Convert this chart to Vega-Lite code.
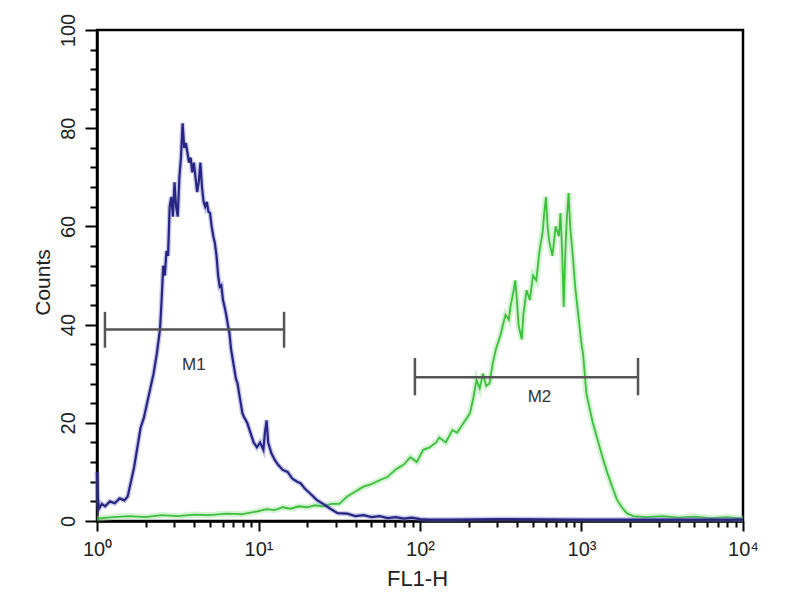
{
  "$schema": "https://vega.github.io/schema/vega-lite/v6.json",
  "width": 646,
  "height": 491,
  "autosize": "none",
  "padding": {"left": 97, "top": 30, "right": 57, "bottom": 79},
  "background": "white",
  "config": {
    "view": {"stroke": "black", "strokeWidth": 2.5},
    "font": "Liberation Sans",
    "axis": {"labelOverlap": false, "labelFlush": false, "labelBound": false, "grid": false}
  },
  "resolve": {"axis": {"y": "independent"}},
  "datasets": {
    "curves": [
      {"s": "blue", "x": 1, "c": 10}, {"s": "blue", "x": 1.0116, "c": 5}, {"s": "blue", "x": 1.028, "c": 2.5},
      {"s": "blue", "x": 1.0715, "c": 3.5}, {"s": "blue", "x": 1.122, "c": 3}, {"s": "blue", "x": 1.202, "c": 4},
      {"s": "blue", "x": 1.288, "c": 3.6}, {"s": "blue", "x": 1.38, "c": 4.6}, {"s": "blue", "x": 1.479, "c": 4.2},
      {"s": "blue", "x": 1.549, "c": 5}, {"s": "blue", "x": 1.622, "c": 8}, {"s": "blue", "x": 1.698, "c": 11},
      {"s": "blue", "x": 1.778, "c": 15}, {"s": "blue", "x": 1.862, "c": 19}, {"s": "blue", "x": 1.95, "c": 21},
      {"s": "blue", "x": 2.042, "c": 24}, {"s": "blue", "x": 2.138, "c": 27}, {"s": "blue", "x": 2.239, "c": 30},
      {"s": "blue", "x": 2.344, "c": 34}, {"s": "blue", "x": 2.455, "c": 39}, {"s": "blue", "x": 2.512, "c": 45},
      {"s": "blue", "x": 2.57, "c": 52}, {"s": "blue", "x": 2.63, "c": 50}, {"s": "blue", "x": 2.692, "c": 55},
      {"s": "blue", "x": 2.754, "c": 54}, {"s": "blue", "x": 2.818, "c": 64}, {"s": "blue", "x": 2.884, "c": 66},
      {"s": "blue", "x": 2.951, "c": 62}, {"s": "blue", "x": 3.02, "c": 69}, {"s": "blue", "x": 3.09, "c": 64},
      {"s": "blue", "x": 3.162, "c": 62}, {"s": "blue", "x": 3.236, "c": 70}, {"s": "blue", "x": 3.311, "c": 74},
      {"s": "blue", "x": 3.388, "c": 81}, {"s": "blue", "x": 3.467, "c": 76}, {"s": "blue", "x": 3.548, "c": 77},
      {"s": "blue", "x": 3.631, "c": 75}, {"s": "blue", "x": 3.715, "c": 73}, {"s": "blue", "x": 3.802, "c": 74},
      {"s": "blue", "x": 3.89, "c": 71}, {"s": "blue", "x": 3.981, "c": 73}, {"s": "blue", "x": 4.074, "c": 70},
      {"s": "blue", "x": 4.169, "c": 67}, {"s": "blue", "x": 4.266, "c": 69}, {"s": "blue", "x": 4.365, "c": 73},
      {"s": "blue", "x": 4.467, "c": 68}, {"s": "blue", "x": 4.571, "c": 65}, {"s": "blue", "x": 4.677, "c": 64},
      {"s": "blue", "x": 4.786, "c": 65}, {"s": "blue", "x": 4.898, "c": 63}, {"s": "blue", "x": 5.012, "c": 62.7},
      {"s": "blue", "x": 5.129, "c": 60}, {"s": "blue", "x": 5.248, "c": 58}, {"s": "blue", "x": 5.37, "c": 56.6},
      {"s": "blue", "x": 5.495, "c": 54}, {"s": "blue", "x": 5.623, "c": 50}, {"s": "blue", "x": 5.754, "c": 47.7},
      {"s": "blue", "x": 5.888, "c": 48}, {"s": "blue", "x": 6.026, "c": 45}, {"s": "blue", "x": 6.166, "c": 43.6},
      {"s": "blue", "x": 6.31, "c": 42}, {"s": "blue", "x": 6.457, "c": 40}, {"s": "blue", "x": 6.607, "c": 38.3},
      {"s": "blue", "x": 6.761, "c": 35}, {"s": "blue", "x": 6.918, "c": 33}, {"s": "blue", "x": 7.079, "c": 31},
      {"s": "blue", "x": 7.244, "c": 29}, {"s": "blue", "x": 7.413, "c": 28}, {"s": "blue", "x": 7.586, "c": 26},
      {"s": "blue", "x": 7.762, "c": 24}, {"s": "blue", "x": 7.943, "c": 22}, {"s": "blue", "x": 8.128, "c": 21.2},
      {"s": "blue", "x": 8.511, "c": 20}, {"s": "blue", "x": 8.913, "c": 18}, {"s": "blue", "x": 9.333, "c": 16},
      {"s": "blue", "x": 9.772, "c": 15}, {"s": "blue", "x": 10.23, "c": 16}, {"s": "blue", "x": 10.72, "c": 14.5},
      {"s": "blue", "x": 10.96, "c": 18}, {"s": "blue", "x": 11.22, "c": 20.5}, {"s": "blue", "x": 11.48, "c": 16},
      {"s": "blue", "x": 12.02, "c": 13.8}, {"s": "blue", "x": 12.59, "c": 12.5}, {"s": "blue", "x": 13.18, "c": 11.5},
      {"s": "blue", "x": 14.13, "c": 10.4}, {"s": "blue", "x": 15.14, "c": 10}, {"s": "blue", "x": 16.22, "c": 8.6},
      {"s": "blue", "x": 17.38, "c": 8}, {"s": "blue", "x": 18.2, "c": 7.7}, {"s": "blue", "x": 19.5, "c": 6.5},
      {"s": "blue", "x": 20.89, "c": 5.6}, {"s": "blue", "x": 22.91, "c": 4.3}, {"s": "blue", "x": 25.12, "c": 3.5},
      {"s": "blue", "x": 27.54, "c": 2.6}, {"s": "blue", "x": 30.9, "c": 1.6}, {"s": "blue", "x": 35.48, "c": 1.5},
      {"s": "blue", "x": 39.81, "c": 1.0}, {"s": "blue", "x": 44.67, "c": 1.2}, {"s": "blue", "x": 50.12, "c": 0.8},
      {"s": "blue", "x": 56.23, "c": 1.0}, {"s": "blue", "x": 63.1, "c": 0.6}, {"s": "blue", "x": 70.79, "c": 0.8},
      {"s": "blue", "x": 79.43, "c": 0.5}, {"s": "blue", "x": 89.13, "c": 0.7}, {"s": "blue", "x": 100, "c": 0.4},
      {"s": "blue", "x": 112.2, "c": 0.3}, {"s": "blue", "x": 158.5, "c": 0.3}, {"s": "blue", "x": 316.2, "c": 0.4},
      {"s": "blue", "x": 1000, "c": 0.3}, {"s": "blue", "x": 3162, "c": 0.3}, {"s": "blue", "x": 10000, "c": 0.3},

      {"s": "green", "x": 1, "c": 0.5}, {"s": "green", "x": 1.259, "c": 0.8}, {"s": "green", "x": 1.585, "c": 1},
      {"s": "green", "x": 1.995, "c": 0.8}, {"s": "green", "x": 2.512, "c": 1.2}, {"s": "green", "x": 3.162, "c": 1},
      {"s": "green", "x": 3.981, "c": 1.3}, {"s": "green", "x": 5.012, "c": 1.2}, {"s": "green", "x": 6.31, "c": 1.5},
      {"s": "green", "x": 7.943, "c": 1.4}, {"s": "green", "x": 10, "c": 2}, {"s": "green", "x": 11.22, "c": 2.4},
      {"s": "green", "x": 12.59, "c": 2.2}, {"s": "green", "x": 14.13, "c": 2.8}, {"s": "green", "x": 15.85, "c": 2.5},
      {"s": "green", "x": 17.78, "c": 3}, {"s": "green", "x": 19.95, "c": 2.8}, {"s": "green", "x": 22.39, "c": 3.2},
      {"s": "green", "x": 25.12, "c": 3}, {"s": "green", "x": 28.18, "c": 3.5}, {"s": "green", "x": 31.62, "c": 3.5},
      {"s": "green", "x": 35.48, "c": 5}, {"s": "green", "x": 39.81, "c": 6}, {"s": "green", "x": 44.67, "c": 7},
      {"s": "green", "x": 50.12, "c": 7.5}, {"s": "green", "x": 56.23, "c": 8.3}, {"s": "green", "x": 63.1, "c": 9},
      {"s": "green", "x": 70.79, "c": 10.5}, {"s": "green", "x": 79.43, "c": 11.5}, {"s": "green", "x": 87.1, "c": 13},
      {"s": "green", "x": 95.5, "c": 12}, {"s": "green", "x": 104.7, "c": 14.5}, {"s": "green", "x": 114.8, "c": 15},
      {"s": "green", "x": 125.9, "c": 16}, {"s": "green", "x": 131.8, "c": 17}, {"s": "green", "x": 144.5, "c": 16},
      {"s": "green", "x": 158.5, "c": 18.5}, {"s": "green", "x": 169.8, "c": 18}, {"s": "green", "x": 182, "c": 19.5},
      {"s": "green", "x": 195, "c": 21}, {"s": "green", "x": 204.2, "c": 22}, {"s": "green", "x": 213.8, "c": 25},
      {"s": "green", "x": 223.9, "c": 28.7}, {"s": "green", "x": 234.4, "c": 27}, {"s": "green", "x": 245.5, "c": 30},
      {"s": "green", "x": 257, "c": 27.5}, {"s": "green", "x": 269.2, "c": 28}, {"s": "green", "x": 281.8, "c": 32},
      {"s": "green", "x": 295.1, "c": 35}, {"s": "green", "x": 302, "c": 36}, {"s": "green", "x": 316.2, "c": 38},
      {"s": "green", "x": 323.6, "c": 39.5}, {"s": "green", "x": 338.8, "c": 42}, {"s": "green", "x": 354.8, "c": 41},
      {"s": "green", "x": 363.1, "c": 43.6}, {"s": "green", "x": 380.2, "c": 47}, {"s": "green", "x": 389, "c": 49},
      {"s": "green", "x": 398.1, "c": 45}, {"s": "green", "x": 407.4, "c": 40}, {"s": "green", "x": 426.6, "c": 37},
      {"s": "green", "x": 436.5, "c": 42}, {"s": "green", "x": 457.1, "c": 47}, {"s": "green", "x": 478.6, "c": 45},
      {"s": "green", "x": 501.2, "c": 50}, {"s": "green", "x": 524.8, "c": 49}, {"s": "green", "x": 549.5, "c": 55},
      {"s": "green", "x": 575.4, "c": 59}, {"s": "green", "x": 588.8, "c": 63}, {"s": "green", "x": 602.6, "c": 66},
      {"s": "green", "x": 616.6, "c": 60}, {"s": "green", "x": 631, "c": 57}, {"s": "green", "x": 660.7, "c": 54},
      {"s": "green", "x": 691.8, "c": 60}, {"s": "green", "x": 724.4, "c": 58}, {"s": "green", "x": 741.3, "c": 62.7},
      {"s": "green", "x": 758.6, "c": 55}, {"s": "green", "x": 776.2, "c": 43.6}, {"s": "green", "x": 794.3, "c": 55},
      {"s": "green", "x": 812.8, "c": 62}, {"s": "green", "x": 831.8, "c": 66.8}, {"s": "green", "x": 851.1, "c": 60},
      {"s": "green", "x": 891.3, "c": 52.5}, {"s": "green", "x": 912, "c": 48}, {"s": "green", "x": 955, "c": 42},
      {"s": "green", "x": 1000, "c": 36}, {"s": "green", "x": 1023, "c": 34}, {"s": "green", "x": 1072, "c": 26},
      {"s": "green", "x": 1122, "c": 23}, {"s": "green", "x": 1175, "c": 20}, {"s": "green", "x": 1259, "c": 16.5},
      {"s": "green", "x": 1349, "c": 13}, {"s": "green", "x": 1445, "c": 9.8}, {"s": "green", "x": 1549, "c": 7},
      {"s": "green", "x": 1660, "c": 4.3}, {"s": "green", "x": 1778, "c": 2.8}, {"s": "green", "x": 1905, "c": 1.6},
      {"s": "green", "x": 2089, "c": 1.0}, {"s": "green", "x": 2512, "c": 0.8}, {"s": "green", "x": 3162, "c": 1},
      {"s": "green", "x": 3981, "c": 0.7}, {"s": "green", "x": 5012, "c": 0.9}, {"s": "green", "x": 6310, "c": 0.6},
      {"s": "green", "x": 7943, "c": 0.8}, {"s": "green", "x": 10000, "c": 0.5}
    ],
    "markers": [
      {"name": "M1", "x1": 1.12, "x2": 14.4, "y": 39, "ylo": 35.3, "yhi": 42.6, "lx": 3.98, "ly": 31.8},
      {"name": "M2", "x1": 93, "x2": 2239, "y": 29.3, "ylo": 25.6, "yhi": 33.2, "lx": 549.5, "ly": 25.3}
    ]
  },
  "layer": [
    {
      "data": {"name": "curves"},
      "transform": [{"filter": "datum.s === 'green'"}],
      "mark": {"type": "line", "color": "#9be39b", "strokeWidth": 6, "opacity": 0.45},
      "encoding": {
        "x": {
          "field": "x", "type": "quantitative",
          "scale": {"type": "log", "domain": [1, 10000], "nice": false},
          "axis": {
            "title": "FL1-H",
            "values": [1,2,3,4,5,6,7,8,9,10,20,30,40,50,60,70,80,90,100,200,300,400,500,600,700,800,900,1000,2000,3000,4000,5000,6000,7000,8000,9000,10000],
            "labelExpr": "datum.value === 1 ? '10\u2070' : datum.value === 10 ? '10\u00b9' : datum.value === 100 ? '10\u00b2' : datum.value === 1000 ? '10\u00b3' : datum.value === 10000 ? '10\u2074' : ''",
            "labelOverlap": false, "labelFlush": false, "labelBound": false,
            "labelFont": "Liberation Sans", "labelFontSize": 20, "labelColor": "#222",
            "labelPadding": 8,
            "tickSize": {"condition": {"test": "indexof([1,10,100,1000,10000], datum.value) >= 0", "value": 10}, "value": 6},
            "tickWidth": 2, "tickColor": "black", "domainColor": "black", "domainWidth": 2.5, "grid": false,
            "titleFont": "Liberation Sans", "titleFontSize": 22, "titleFontWeight": "normal", "titleColor": "#222",
            "titleX": 320, "titleY": 57, "titleAlign": "center", "titleBaseline": "middle"
          }
        },
        "y": {
          "field": "c", "type": "quantitative",
          "scale": {"domain": [0, 100], "nice": false},
          "axis": {
            "orient": "left",
            "title": "Counts",
            "values": [0, 20, 40, 60, 80, 100],
            "labelOverlap": false, "labelFlush": false, "labelBound": false,
            "labelAngle": -90, "labelAlign": "center", "labelBaseline": "bottom", "labelPadding": 7,
            "labelFont": "Liberation Sans", "labelFontSize": 20, "labelColor": "#222",
            "tickSize": 12,
            "tickWidth": 2, "tickColor": "black", "domainColor": "black", "domainWidth": 2.5, "grid": false,
            "titleFont": "Liberation Sans", "titleFontSize": 21, "titleFontWeight": "normal", "titleColor": "#222",
            "titleAngle": -90, "titleX": -54, "titleY": 252, "titleAlign": "center", "titleBaseline": "middle"
          }
        }
      }
    },
    {
      "data": {"name": "curves"},
      "transform": [{"filter": "datum.s === 'green'"}],
      "mark": {"type": "line", "color": "#3cbf3c", "strokeWidth": 1.8},
      "encoding": {
        "x": {"field": "x", "type": "quantitative"},
        "y": {
          "field": "c", "type": "quantitative",
          "axis": {
            "orient": "left", "title": null, "labels": false, "domain": false, "grid": false,
            "values": [4,8,12,16,24,28,32,36,44,48,52,56,64,68,72,76,84,88,92,96],
            "tickSize": 7, "tickWidth": 2, "tickColor": "black"
          }
        }
      }
    },
    {
      "data": {"name": "curves"},
      "transform": [{"filter": "datum.s === 'blue'"}],
      "mark": {"type": "line", "color": "#7a7acc", "strokeWidth": 5, "opacity": 0.4},
      "encoding": {"x": {"field": "x", "type": "quantitative"}, "y": {"field": "c", "type": "quantitative", "axis": null}}
    },
    {
      "data": {"name": "curves"},
      "transform": [{"filter": "datum.s === 'blue'"}],
      "mark": {"type": "line", "color": "#262682", "strokeWidth": 2.2},
      "encoding": {"x": {"field": "x", "type": "quantitative"}, "y": {"field": "c", "type": "quantitative", "axis": null}}
    },
    {
      "data": {"name": "markers"},
      "mark": {"type": "rule", "color": "#555555", "strokeWidth": 2.5},
      "encoding": {"x": {"field": "x1", "type": "quantitative"}, "x2": {"field": "x2"}, "y": {"field": "y", "type": "quantitative", "axis": null}}
    },
    {
      "data": {"name": "markers"},
      "mark": {"type": "rule", "color": "#555555", "strokeWidth": 2.5},
      "encoding": {"x": {"field": "x1", "type": "quantitative"}, "y": {"field": "ylo", "type": "quantitative", "axis": null}, "y2": {"field": "yhi"}}
    },
    {
      "data": {"name": "markers"},
      "mark": {"type": "rule", "color": "#555555", "strokeWidth": 2.5},
      "encoding": {"x": {"field": "x2", "type": "quantitative"}, "y": {"field": "ylo", "type": "quantitative", "axis": null}, "y2": {"field": "yhi"}}
    },
    {
      "data": {"name": "markers"},
      "mark": {"type": "text", "color": "#333333", "font": "Liberation Sans", "fontSize": 17, "align": "center", "baseline": "middle"},
      "encoding": {"x": {"field": "lx", "type": "quantitative"}, "y": {"field": "ly", "type": "quantitative", "axis": null}, "text": {"field": "name"}}
    }
  ]
}
